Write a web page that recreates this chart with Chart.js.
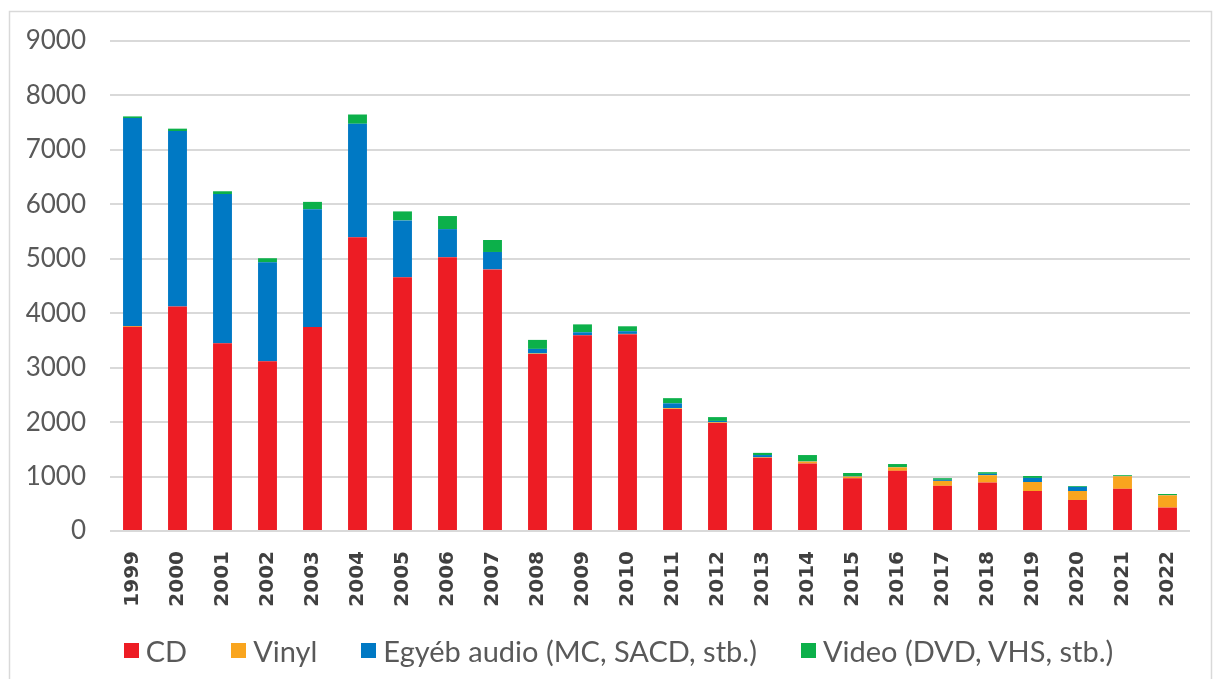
<!DOCTYPE html>
<html>
<head>
<meta charset="utf-8">
<script src="https://cdn.jsdelivr.net/npm/chart.js@4/dist/chart.umd.min.js"></script>
<style>
  html, body { margin: 0; padding: 0; background: #fff; }
  #wrap { position: relative; width: 1215px; height: 679px; }
  canvas { display: block; }
  #legend {
    position: absolute; left: 22px; top: 632px; width: 1193px; height: 36px;
    display: flex; justify-content: center; align-items: center;
    font-family: Lato, "DejaVu Sans", sans-serif; font-size: 29px; color: #595959;
    white-space: nowrap;
  }
  #legend .item { display: flex; align-items: center; margin: 0 22px; }
  #legend .box { width: 15px; height: 15px; margin-right: 7px; }
</style>
</head>
<body>
<div id="wrap">
<canvas id="myChart" width="1215" height="679"></canvas>
<div id="legend"></div>
</div>
<script>
const years = ['1999', '2000', '2001', '2002', '2003', '2004', '2005', '2006', '2007', '2008', '2009', '2010',
               '2011', '2012', '2013', '2014', '2015', '2016', '2017', '2018', '2019', '2020', '2021', '2022'];
const cd = [3750, 4125, 3450, 3120, 3745, 5395, 4660, 5030, 4805, 3250, 3595, 3615,
            2240, 1985, 1345, 1240, 970, 1105, 830, 890, 735, 570, 775, 430];
const vinyl = [15, 0, 0, 0, 0, 0, 0, 0, 0, 10, 0, 5,
               15, 12, 10, 35, 30, 65, 90, 135, 165, 165, 230, 225];
const otherAudio = [3820, 3220, 2740, 1815, 2165, 2085, 1045, 515, 320, 85, 55, 50,
                    90, 25, 40, 5, 10, 5, 20, 25, 75, 75, 5, 5];
const video = [30, 45, 50, 75, 135, 170, 165, 240, 220, 165, 145, 90,
               95, 70, 40, 115, 55, 55, 30, 30, 35, 15, 15, 20];

const fontFamily = 'Lato, "DejaVu Sans", sans-serif';

const frame = {
    id: 'frame',
    beforeDraw(chart) {
        const c = chart.ctx;
        c.save();
        c.strokeStyle = '#d9d9d9';
        c.lineWidth = 1.5;
        c.strokeRect(9.5, 11.5, 1202, 675);
        c.restore();
    }
};

function series(label, data, color) {
    return {
        label: label,
        data: data,
        backgroundColor: color,
        borderWidth: 0,
        categoryPercentage: 1,
        barPercentage: 0.42
    };
}

const ctx = document.getElementById('myChart').getContext('2d');
const myChart = new Chart(ctx, {
    type: 'bar',
    data: {
        labels: years,
        datasets: [
            series('CD', cd, '#ED1C24'),
            series('Vinyl', vinyl, '#F9A51E'),
            series('Egyéb audio (MC, SACD, stb.)', otherAudio, '#0079C4'),
            series('Video (DVD, VHS, stb.)', video, '#0CB04A')
        ]
    },
    options: {
        responsive: false,
        animation: false,
        layout: {
            padding: { top: 41, left: 26, right: 25, bottom: 72 }
        },
        plugins: {
            tooltip: { enabled: false },
            legend: { display: false }
        },
        scales: {
            x: {
                stacked: true,
                grid: { display: false, drawTicks: false },
                border: { display: false },
                ticks: {
                    maxRotation: 90,
                    minRotation: 90,
                    padding: 20,
                    color: '#404040',
                    font: { family: '"DejaVu Sans", sans-serif', size: 20, weight: 'bold' }
                },
                afterFit(s) {
                    s.paddingLeft = 0;
                    s.paddingRight = 0;
                    s.height = 76;
                }
            },
            y: {
                stacked: true,
                min: 0,
                max: 9000,
                border: { display: false },
                grid: { color: '#d9d9d9', lineWidth: 2, drawTicks: false },
                ticks: {
                    stepSize: 1000,
                    padding: 24,
                    color: '#595959',
                    font: { family: fontFamily, size: 26 },
                    callback: (v) => String(v)
                },
                afterFit(s) {
                    s.paddingTop = 0;
                    s.paddingBottom = 0;
                    s.width = 84;
                }
            }
        }
    },
    plugins: [frame]
});

// legend built from the chart's datasets
const legend = document.getElementById('legend');
myChart.data.datasets.forEach(ds => {
    const item = document.createElement('div');
    item.className = 'item';
    const box = document.createElement('span');
    box.className = 'box';
    box.style.background = ds.backgroundColor;
    const txt = document.createElement('span');
    txt.textContent = ds.label;
    item.appendChild(box);
    item.appendChild(txt);
    legend.appendChild(item);
});
</script>
</body>
</html>
